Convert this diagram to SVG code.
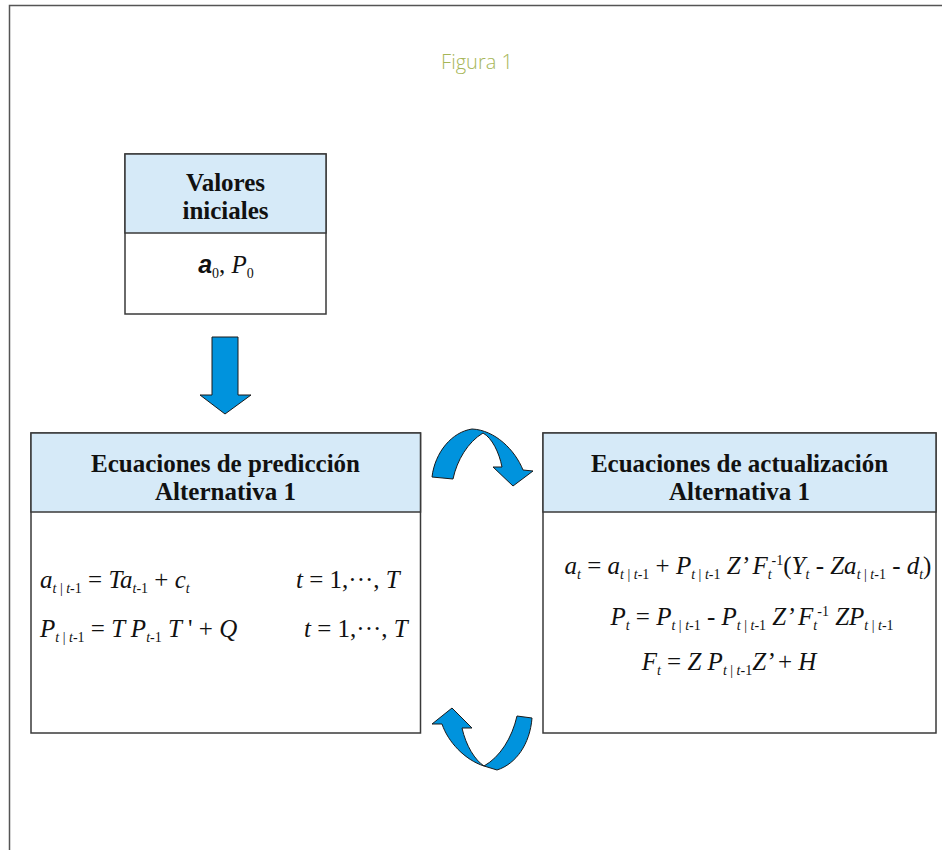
<svg xmlns="http://www.w3.org/2000/svg" width="942" height="850" viewBox="0 0 942 850">
<style>
.frame{fill:none;stroke:#555;stroke-width:1.5}
.box{fill:#fff;stroke:#3a3a3a;stroke-width:1.5}
.hdr{fill:#d6eaf8;stroke:#3a3a3a;stroke-width:1.5}
.title{font-family:"Liberation Serif",serif;font-weight:bold;font-size:25px;fill:#111;text-anchor:middle}
.eq{font-family:"Liberation Serif",serif;font-style:italic;font-size:25px;fill:#111}
.up{font-style:normal}
.sb{font-size:14px}
.arrow{fill:#0093dd;stroke:#1a1a1a;stroke-width:1}
.fig{font-family:"Open Sans","Liberation Sans",sans-serif;font-weight:300;font-size:20px;fill:#a6b657;text-anchor:middle}
</style>
<rect width="942" height="850" fill="#fff"/>
<path class="frame" d="M9.5,850 V5.5 H942"/>
<text class="fig" x="477" y="69">Figura 1</text>

<g id="valores">
<rect class="box" x="125" y="154" width="201" height="160"/>
<rect class="hdr" x="125" y="154" width="201" height="79"/>
<text class="title" x="225.5" y="191">Valores</text>
<text class="title" x="225.5" y="219">iniciales</text>
<text class="eq" x="226" y="273" text-anchor="middle"><tspan font-family="Liberation Sans,sans-serif" font-weight="bold">a</tspan><tspan class="sb up" dy="5">0</tspan><tspan class="up" dy="-5">, </tspan><tspan>P</tspan><tspan class="sb up" dy="5">0</tspan></text>
</g>

<g id="prediccion">
<rect class="box" x="31" y="433" width="389.5" height="300"/>
<rect class="hdr" x="31" y="433" width="389.5" height="79"/>
<text class="title" x="225.5" y="472">Ecuaciones de predicción</text>
<text class="title" x="225.5" y="500">Alternativa 1</text>
<text class="eq" x="40" y="588">a<tspan class="sb" dy="5">t<tspan class="up"> | </tspan>t<tspan class="up">-1</tspan></tspan><tspan class="up" dy="-5"> = </tspan>Ta<tspan class="sb" dy="5">t<tspan class="up">-1</tspan></tspan><tspan class="up" dy="-5"> + </tspan>c<tspan class="sb" dy="5">t</tspan></text>
<text class="eq" x="296" y="588">t<tspan class="up"> = 1,···, </tspan>T</text>
<text class="eq" x="40" y="637">P<tspan class="sb" dy="5">t<tspan class="up"> | </tspan>t<tspan class="up">-1</tspan></tspan><tspan class="up" dy="-5"> = </tspan>T P<tspan class="sb" dy="5">t<tspan class="up">-1</tspan></tspan><tspan dy="-5"> T<tspan class="up"> ' + </tspan>Q</tspan></text>
<text class="eq" x="304" y="637">t<tspan class="up"> = 1,···, </tspan>T</text>
</g>

<g id="actualizacion">
<rect class="box" x="543" y="433" width="393" height="300"/>
<rect class="hdr" x="543" y="433" width="393" height="79"/>
<text class="title" x="739.5" y="472">Ecuaciones de actualización</text>
<text class="title" x="739.5" y="500">Alternativa 1</text>
<text class="eq" x="748" y="574" text-anchor="middle">a<tspan class="sb" dy="5">t</tspan><tspan class="up" dy="-5"> = </tspan>a<tspan class="sb" dy="5">t<tspan class="up"> | </tspan>t<tspan class="up">-1</tspan></tspan><tspan class="up" dy="-5"> + </tspan>P<tspan class="sb" dy="5">t<tspan class="up"> | </tspan>t<tspan class="up">-1</tspan></tspan><tspan dy="-5"> Z’ F</tspan><tspan class="sb" dy="5">t</tspan><tspan class="sb up" dy="-14">-1</tspan><tspan class="up" dy="9">(</tspan>Y<tspan class="sb" dy="5">t</tspan><tspan class="up" dy="-5"> - </tspan>Za<tspan class="sb" dy="5">t<tspan class="up"> | </tspan>t<tspan class="up">-1</tspan></tspan><tspan class="up" dy="-5"> - </tspan>d<tspan class="sb" dy="5">t</tspan><tspan class="up" dy="-5">)</tspan></text>
<text class="eq" x="752" y="625" text-anchor="middle">P<tspan class="sb" dy="5">t</tspan><tspan class="up" dy="-5"> = </tspan>P<tspan class="sb" dy="5">t<tspan class="up"> | </tspan>t<tspan class="up">-1</tspan></tspan><tspan class="up" dy="-5"> - </tspan>P<tspan class="sb" dy="5">t<tspan class="up"> | </tspan>t<tspan class="up">-1</tspan></tspan><tspan dy="-5"> Z’ F</tspan><tspan class="sb" dy="5">t</tspan><tspan class="sb up" dy="-14">-1</tspan><tspan dy="9"> ZP</tspan><tspan class="sb" dy="5">t<tspan class="up"> | </tspan>t<tspan class="up">-1</tspan></tspan></text>
<text class="eq" x="729" y="670" text-anchor="middle">F<tspan class="sb" dy="5">t</tspan><tspan class="up" dy="-5"> = </tspan>Z P<tspan class="sb" dy="5">t<tspan class="up"> | </tspan>t<tspan class="up">-1</tspan></tspan><tspan dy="-5">Z’ <tspan class="up">+ </tspan>H</tspan></text>
</g>

<g id="connectors">
<polygon class="arrow" points="212,337 238,337 238,395 251,395 225,414 200,395 212,395"/>
<path class="arrow" d="M432,477 C435,452 452,432 472,429 C495,430 515,450 523,470 L533,471 L513,486 L493,467 L502,467 C499,452 492,438 483,433 C468,442 457,460 453,479 Z"/>
<path class="arrow" d="M452,708 L472,728 L462,728 C466,746 475,760 484,766 C500,757 512,738 517,716 L532,718 C530,744 516,764 497,770 L484,766 C465,760 448,742 442,724 L432,724 Z"/>
</g>
</svg>
